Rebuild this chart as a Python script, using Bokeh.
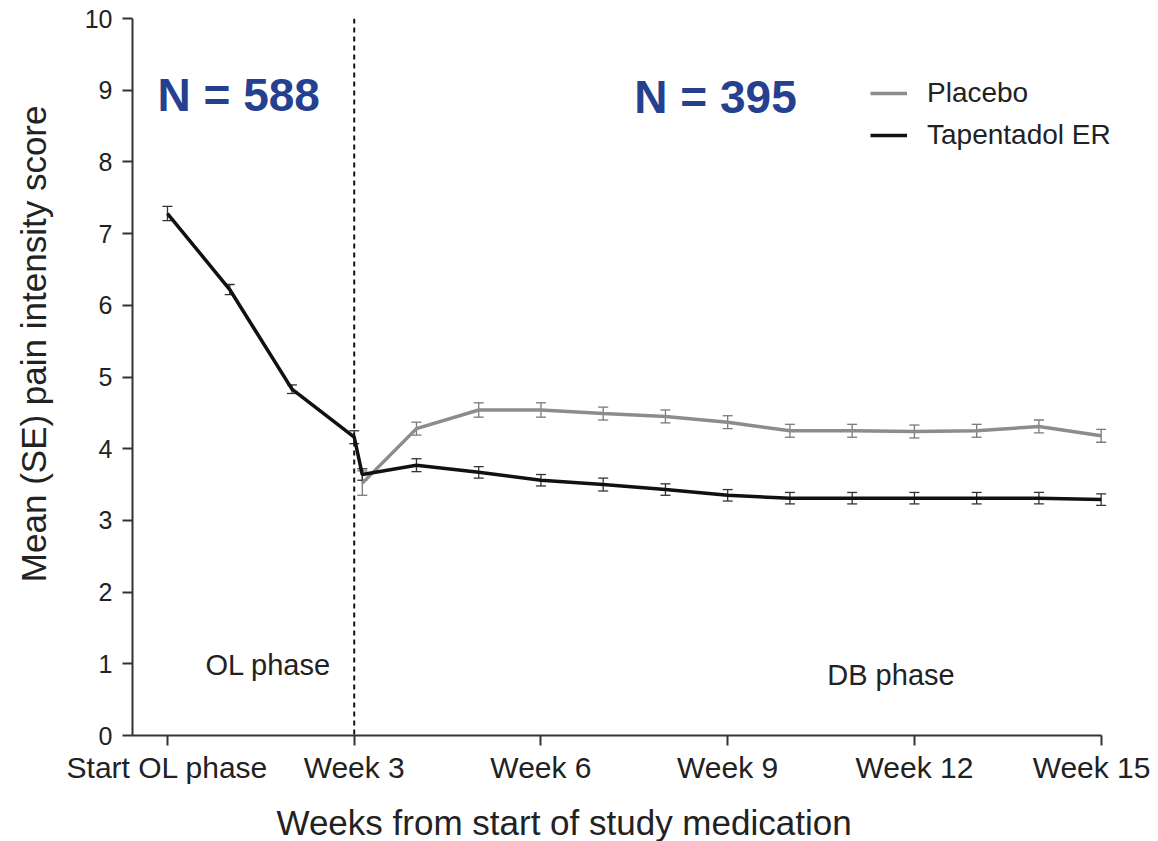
import math
from bokeh.plotting import figure
from bokeh.layouts import row, column
from bokeh.models import (ColumnDataSource, Whisker, TeeHead, Span, Label, Legend,
                          LegendItem, Range1d, FixedTicker)
from bokeh.core.properties import value
from bokeh.embed import file_html
from bokeh.resources import INLINE

# ---------------- data ----------------
ol_weeks = [0, 1, 2, 3]
ol_tap = [7.28, 6.22, 4.83, 4.16]
ol_tap_se = [0.10, 0.07, 0.06, 0.09]

db_weeks = [3.13, 4, 5, 6, 7, 8, 9, 10, 11, 12, 13, 14, 15]
db_placebo = [3.52, 4.28, 4.54, 4.54, 4.49, 4.45, 4.37, 4.25, 4.25, 4.24, 4.25, 4.31, 4.18]
db_placebo_se = [0.17, 0.09, 0.10, 0.10, 0.09, 0.09, 0.09, 0.09, 0.09, 0.09, 0.09, 0.09, 0.09]
db_tap = [3.64, 3.77, 3.67, 3.56, 3.50, 3.43, 3.35, 3.31, 3.31, 3.31, 3.31, 3.31, 3.29]
db_tap_se = [0.08, 0.09, 0.08, 0.08, 0.09, 0.08, 0.08, 0.08, 0.08, 0.08, 0.08, 0.08, 0.08]

tick_weeks = [0, 3, 6, 9, 12, 15]
tick_labels = ["Start OL phase", "Week 3", "Week 6", "Week 9", "Week 12", "Week 15"]
y_ticks = list(range(0, 11))

randomization_week = 3
n_texts = [("N = 588", -0.16, 8.94), ("N = 395", 7.50, 8.91)]
phase_texts = [("OL phase", 0.61, 0.98), ("DB phase", 10.6, 0.84)]
x_title = "Weeks from start of study medication"
y_title = "Mean (SE) pain intensity score"

FONT = "Liberation Sans"
PLACEBO_COLOR = "#8c8c8c"
TAP_COLOR = "#111111"
BLUE = "#24408e"

X0, X_AXIS_END, X1 = -0.562, 15.0, 15.6
LEFT_W = 60
MAIN_H = 18 + 717 + 54
BOTTOM_H = 52

p = figure(frame_width=1006, frame_height=717,
           min_border_left=72, min_border_top=18, min_border_right=12, min_border_bottom=54,
           x_range=Range1d(X0, X1), y_range=Range1d(0, 10),
           output_backend="svg", toolbar_location=None, tools="")
p.outline_line_color = None
p.xgrid.visible = False
p.ygrid.visible = False
p.background_fill_color = "white"

# axes
for ax in (p.xaxis[0], p.yaxis[0]):
    ax.axis_line_color = "#333333"
    ax.axis_line_width = 2
    ax.major_tick_line_color = "#333333"
    ax.major_tick_line_width = 2
    ax.major_tick_in = 0
    ax.major_tick_out = 10
    ax.minor_tick_line_color = None
    ax.major_label_text_font = FONT
    ax.major_label_text_color = "#222222"

p.xaxis.bounds = (X0, X_AXIS_END)
p.xaxis.ticker = FixedTicker(ticks=tick_weeks)
p.xaxis.major_label_overrides = {w: l for w, l in zip(tick_weeks, tick_labels)}
p.xaxis.major_label_text_font_size = "30px"
p.xaxis.major_label_standoff = 5

p.yaxis.ticker = FixedTicker(ticks=y_ticks)
p.yaxis.major_label_text_font_size = "25px"
p.yaxis.major_label_standoff = 10

# randomization line
p.add_layout(Span(location=randomization_week, dimension="height", line_color="#111111",
                  line_width=2, line_dash="5 4"))

# sources
ol_src = ColumnDataSource(dict(x=ol_weeks, y=ol_tap,
                               lo=[v - s for v, s in zip(ol_tap, ol_tap_se)],
                               hi=[v + s for v, s in zip(ol_tap, ol_tap_se)]))
pl_src = ColumnDataSource(dict(x=db_weeks, y=db_placebo,
                               lo=[v - s for v, s in zip(db_placebo, db_placebo_se)],
                               hi=[v + s for v, s in zip(db_placebo, db_placebo_se)]))
tp_src = ColumnDataSource(dict(x=db_weeks, y=db_tap,
                               lo=[v - s for v, s in zip(db_tap, db_tap_se)],
                               hi=[v + s for v, s in zip(db_tap, db_tap_se)]))

# tapentadol continuous line (OL + DB)
tap_all_x = ol_weeks + db_weeks
tap_all_y = ol_tap + db_tap

pl_line = p.line(x="x", y="y", source=pl_src, line_color=PLACEBO_COLOR, line_width=3.5)
tp_line = p.line(tap_all_x, tap_all_y, line_color=TAP_COLOR, line_width=3.5)

for src, col in ((pl_src, "#7a7a7a"), (ol_src, "#333333"), (tp_src, "#333333")):
    p.add_layout(Whisker(base="x", lower="lo", upper="hi", source=src,
                         line_color=col, line_width=1.3,
                         upper_head=TeeHead(size=10, line_color=col, line_width=1.3),
                         lower_head=TeeHead(size=10, line_color=col, line_width=1.3)))

# texts
for t, x, y in n_texts:
    p.add_layout(Label(x=x, y=y, text=t, text_font=FONT, text_font_size="46px",
                       text_font_style="bold", text_color=BLUE, text_baseline="alphabetic"))
for t, x, y in phase_texts:
    p.add_layout(Label(x=x, y=y, text=t, text_font=FONT, text_font_size="29px",
                       text_color="#222222", text_baseline="alphabetic"))

legend = Legend(items=[LegendItem(label="Placebo", renderers=[pl_line]),
                       LegendItem(label="Tapentadol ER", renderers=[tp_line])],
                location=(738, 584), orientation="vertical",
                label_text_font=FONT, label_text_font_size="28px", label_text_color="#222222",
                glyph_width=37, glyph_height=30, label_standoff=20, spacing=10,
                padding=0, margin=0, border_line_color=None, background_fill_alpha=0)
p.add_layout(legend)


def text_strip(w, h):
    f = figure(width=w, height=h, x_range=Range1d(0, w), y_range=Range1d(0, h),
               min_border=0, x_axis_location=None, y_axis_location=None,
               output_backend="svg", toolbar_location=None, tools="")
    f.outline_line_color = None
    f.grid.visible = False
    return f


# y-axis title strip (left)
left = text_strip(LEFT_W, MAIN_H)
left.text(x=[33], y=[MAIN_H - 358], text=[y_title], angle=math.pi / 2,
          text_font=value(FONT), text_font_size="35px", text_color="#222222",
          text_align="center", text_baseline="middle")

# x-axis title strip (bottom)
bottom = text_strip(LEFT_W + 72 + 1006 + 12, BOTTOM_H)
bottom.text(x=[276], y=[BOTTOM_H - 33], text=[x_title],
            text_font=value(FONT), text_font_size="35px", text_color="#222222",
            text_align="left", text_baseline="middle")

layout = column(row(left, p, spacing=0), bottom, spacing=0)
open("out.html", "w").write(file_html(layout, INLINE))
